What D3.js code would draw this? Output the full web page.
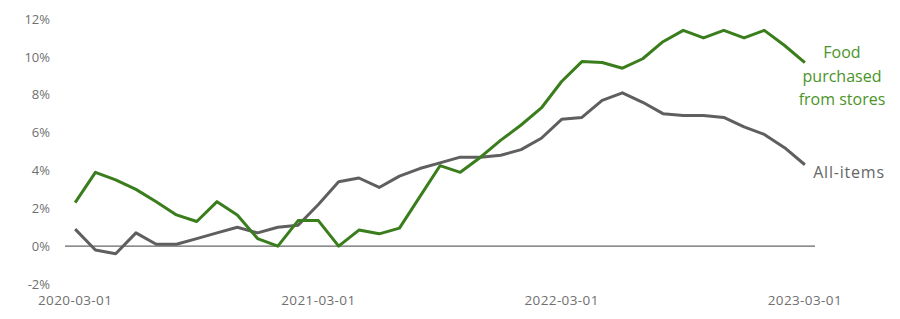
<!DOCTYPE html>
<html lang="en">
<head>
<meta charset="UTF-8">
<script src="https://cdn.jsdelivr.net/npm/d3@7"></script>
<style>
body{
	margin: 0;
	background-color: white;
	font-family: "Open Sans", sans-serif;
}
</style>
</head>
<body>
<svg width="900" height="319"></svg>
<script>
// monthly, 2020-03 .. 2023-03 (year-over-year % change)
const months = d3.timeMonths(new Date(2020, 2, 1), new Date(2023, 3, 1)).map(d3.timeFormat("%Y-%m-%d"));

const foodStores = [2.3, 3.9, 3.5, 3.0, 2.35, 1.65, 1.3, 2.35, 1.65, 0.4, 0.0, 1.35,
	1.35, 0.0, 0.85, 0.65, 0.95, 2.6, 4.25, 3.9, 4.7, 5.6, 6.4, 7.3,
	8.7, 9.75, 9.7, 9.4, 9.9, 10.8, 11.4, 11.0, 11.4, 11.0, 11.4, 10.6, 9.7];

const allItems = [0.9, -0.2, -0.4, 0.7, 0.1, 0.1, 0.4, 0.7, 1.0, 0.7, 1.0, 1.1,
	2.2, 3.4, 3.6, 3.1, 3.7, 4.1, 4.4, 4.7, 4.7, 4.8, 5.1, 5.7,
	6.7, 6.8, 7.7, 8.1, 7.6, 7.0, 6.9, 6.9, 6.8, 6.3, 5.9, 5.2, 4.3];

const yTicks = [-2, 0, 2, 4, 6, 8, 10, 12];
const xTicks = ["2020-03-01", "2021-03-01", "2022-03-01", "2023-03-01"];

const svg = d3.select("svg");

let x = d3.scaleBand()
	.domain(months)
	.range([65, 815]);

let y = d3.scaleLinear()
	.domain([-2, 12])
	.range([284, 19]);

let cx = function(d) { return x(d) + x.bandwidth() / 2; };

// y axis labels
let yAxis = svg.append("g")
	.attr("transform", "translate(50,0)")
	.call(d3.axisLeft(y).tickValues(yTicks).tickFormat(function(d) { return d + "%"; }).tickSize(0).tickPadding(0));
yAxis.select(".domain").remove();
yAxis.selectAll("text")
	.style("font-size", "13px")
	.style("font-family", "Open Sans, sans-serif")
	.attr("fill", "#707070");

// zero baseline
svg.append("line")
	.attr("x1", 65).attr("x2", 815)
	.attr("y1", y(0)).attr("y2", y(0))
	.attr("stroke", "#666")
	.attr("stroke-width", 1.2);

// x axis labels
let xAxis = svg.append("g")
	.attr("transform", "translate(0,295)")
	.call(d3.axisBottom(x).tickValues(xTicks).tickSize(0).tickPadding(0));
xAxis.select(".domain").remove();
xAxis.selectAll("text")
	.style("font-size", "13.5px")
	.style("letter-spacing", "0.4px")
	.style("font-family", "Open Sans, sans-serif")
	.attr("fill", "#707070");

let line = d3.line()
	.x(function(d, i) { return cx(months[i]); })
	.y(function(d) { return y(d); });

svg.append("path")
	.datum(allItems)
	.attr("d", line)
	.attr("fill", "none")
	.attr("stroke", "#5f5f5f")
	.attr("stroke-width", 3)
	.attr("stroke-linejoin", "round");

svg.append("path")
	.datum(foodStores)
	.attr("d", line)
	.attr("fill", "none")
	.attr("stroke", "#3a7d1c")
	.attr("stroke-width", 3)
	.attr("stroke-linejoin", "round");

// series labels
let foodLabel = svg.append("text")
	.attr("x", 842)
	.attr("y", 58)
	.attr("text-anchor", "middle")
	.style("font-size", "16px")
	.attr("fill", "#4a9428");
["Food", "purchased", "from stores"].forEach(function(t, i) {
	foodLabel.append("tspan")
		.attr("x", 842)
		.attr("dy", i == 0 ? 0 : 23.5)
		.text(t);
});

svg.append("text")
	.attr("x", 849)
	.attr("y", 178)
	.attr("text-anchor", "middle")
	.style("font-size", "16px")
	.style("letter-spacing", "0.8px")
	.attr("fill", "#666")
	.text("All-items");
</script>
</body>
</html>
